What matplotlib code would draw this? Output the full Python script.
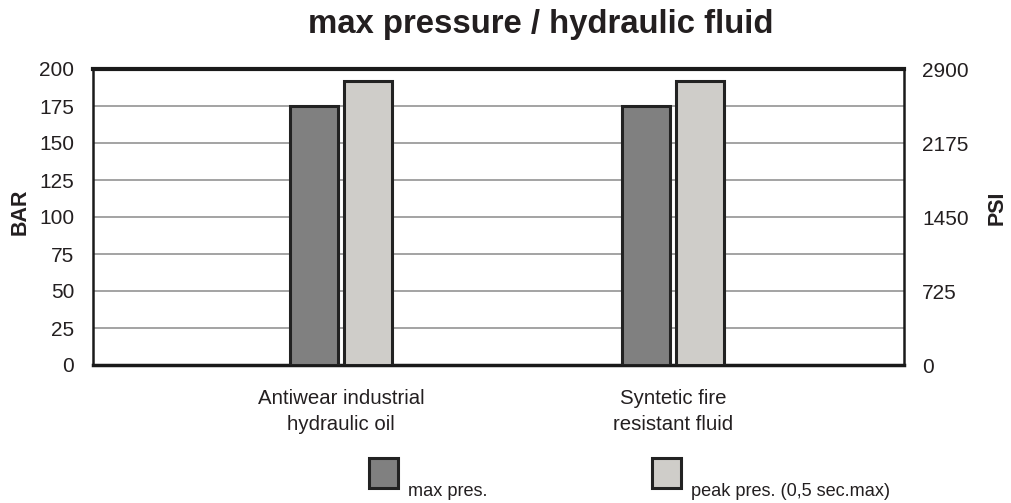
import matplotlib
matplotlib.use("Agg")
import matplotlib.pyplot as plt
from matplotlib.patches import Rectangle
import numpy as np

plt.rcParams['font.family'] = ['Liberation Sans', 'DejaVu Sans']

categories = ["Antiwear industrial\nhydraulic oil", "Syntetic fire\nresistant fluid"]
series_names = ["max pres.", "peak pres. (0,5 sec.max)"]
max_pres = [175, 175]
peak_pres = [192, 192]
bar_ticks = [0, 25, 50, 75, 100, 125, 150, 175, 200]
psi_ticks = [0, 725, 1450, 2175, 2900]

W, H = 1011, 503
fig = plt.figure(figsize=(W/100, H/100), dpi=100)
L, R, T, B = 93, 904, 69, 365
ax = fig.add_axes([L/W, 1 - B/H, (R-L)/W, (B-T)/H])

txt = '#231f20'
dark = '#808080'
light = '#cfcdc9'
edge = '#222222'
x = np.arange(len(categories))
bw = 0.145
gap = 0.008
ax.bar(x - bw/2 - gap, max_pres, bw, color=dark, edgecolor=edge, linewidth=2.2, zorder=3)
ax.bar(x + bw/2 + gap, peak_pres, bw, color=light, edgecolor=edge, linewidth=2.2, zorder=3)

ax.set_xlim(-0.747, 1.696)
ax.set_ylim(0, 200)
ax.set_yticks(bar_ticks)
ax.yaxis.grid(True, color='#8a8a8a', linewidth=1.1, zorder=0)
ax.set_axisbelow(True)
ax.tick_params(axis='y', length=0, labelsize=15, pad=13.5, colors=txt)
ax.set_xticks(x)
ax.set_xticklabels(categories, fontsize=14.7, linespacing=1.5, color=txt)
ax.tick_params(axis='x', length=0, pad=17)
for s in ax.spines.values():
    s.set_color('#1a1a1a')
    s.set_linewidth(1.8)
ax.spines['top'].set_linewidth(3.0)
ax.spines['bottom'].set_linewidth(2.5)

ax2 = ax.twinx()
ax2.set_ylim(0, 2900)
ax2.set_yticks(psi_ticks)
ax2.tick_params(axis='y', length=0, labelsize=15, pad=13, colors=txt)
for s in ax2.spines.values():
    s.set_visible(False)

fig.text(20/W, 1 - 212/H, "BAR", rotation=90, fontsize=15.5, fontweight='bold',
         ha='center', va='center', color=txt)
fig.text(997/W, 1 - 208/H, "PSI", rotation=90, fontsize=15.5, fontweight='bold',
         ha='center', va='center', color=txt)
fig.text(541/W, 1 - 25/H, "max pressure / hydraulic fluid", fontsize=23.7,
         fontweight='bold', ha='center', va='center', color=txt)

# legend
for bx, col, name in [(369, dark, series_names[0]), (652, light, series_names[1])]:
    fig.patches.append(Rectangle((bx/W, 1 - 488/H), 29/W, 30/H, transform=fig.transFigure,
                                 facecolor=col, edgecolor=edge, linewidth=2.2))
    fig.text((bx + 39)/W, 1 - 491/H, name, fontsize=13.1, ha='left', va='center',
             color=txt)

fig.savefig("out.png", dpi=100)
